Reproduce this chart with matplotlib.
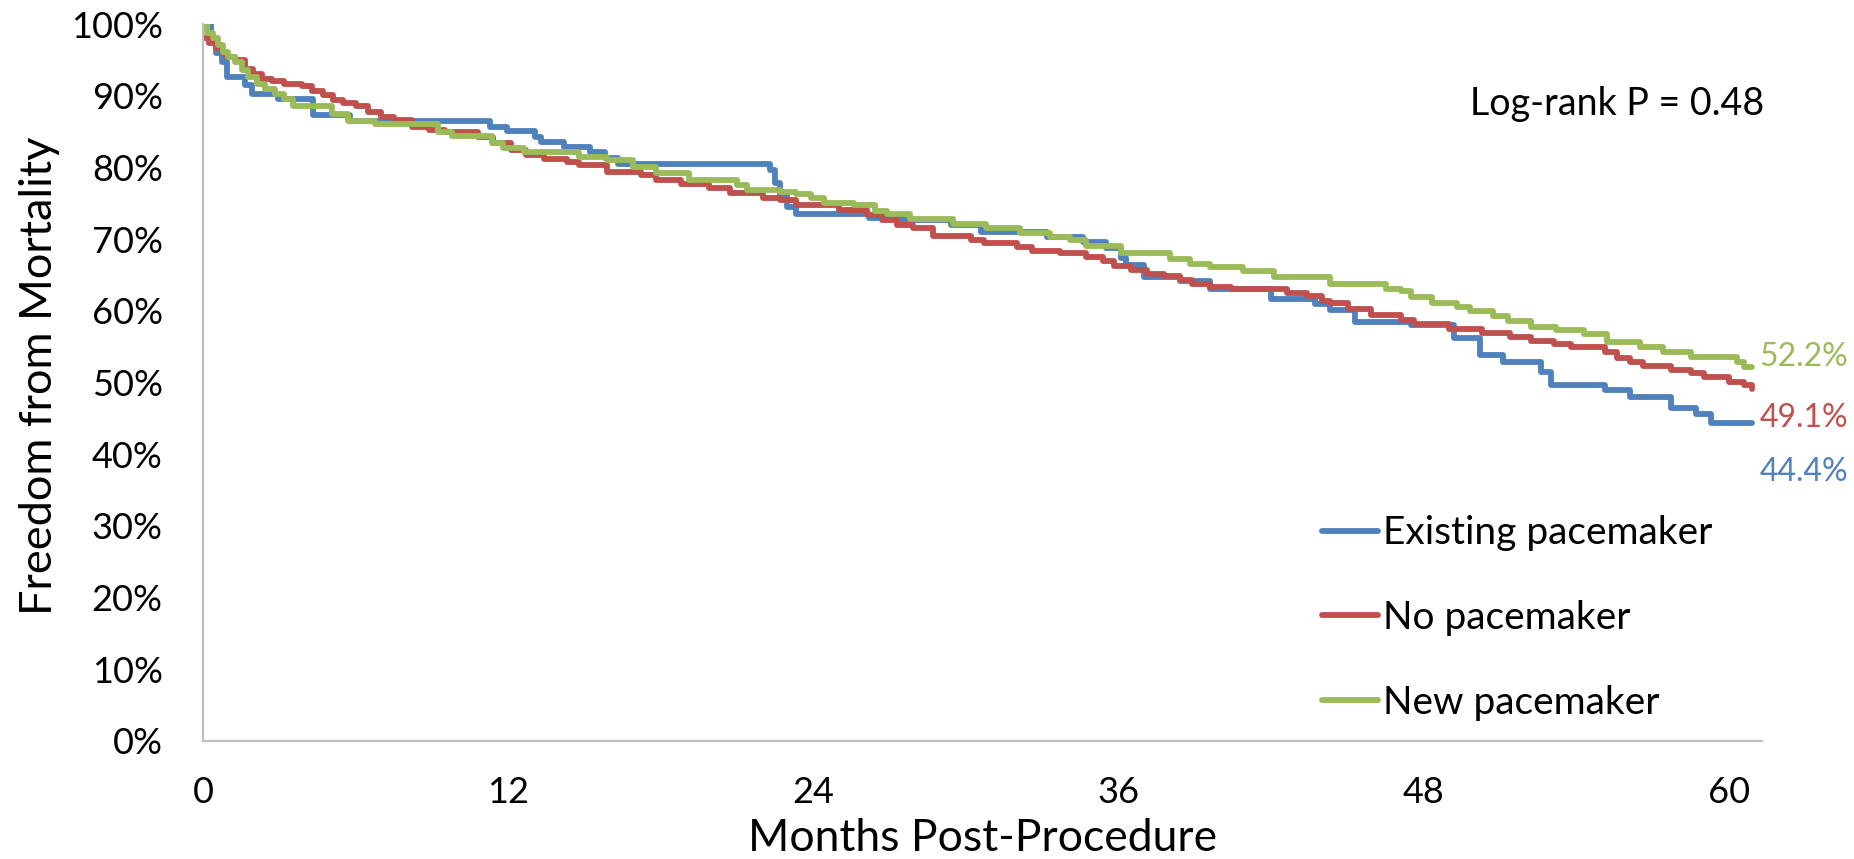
import matplotlib
matplotlib.use("Agg")
import matplotlib.pyplot as plt

plt.rcParams['font.family'] = ['Lato', 'DejaVu Sans']

# Kaplan-Meier step points (months, % alive)
existing_t = [0, 0.3, 0.5, 0.75, 0.93, 1.65, 1.91, 2.96, 4.34, 5.78, 11.3, 11.95, 13.06,
              13.3, 14.2, 15.2, 15.8, 16.3, 22.3, 22.5, 22.7, 22.95, 23.3, 26.2, 27.5,
              29.4, 30.6, 33.2, 34.6, 35.5, 36.1, 36.3, 37.0, 38.4, 39.6, 42.0, 43.7,
              44.3, 45.3, 47.5, 49.2, 50.2, 51.1, 52.6, 53.0, 55.1, 56.1, 57.7, 58.7,
              59.3, 60.9]
existing_s = [100, 97.5, 95.9, 94.7, 92.6, 91.5, 90.3, 89.5, 87.3, 86.5, 85.7, 85.1, 84.3,
              83.5, 82.8, 82.1, 81.3, 80.5, 79.6, 77.8, 76.0, 74.5, 73.5, 73.0, 72.7,
              72.0, 71.0, 70.3, 69.6, 68.7, 67.3, 66.4, 64.7, 64.1, 63.1, 61.7, 60.9,
              60.1, 58.5, 58.0, 56.2, 53.8, 52.9, 51.5, 49.7, 49.0, 48.0, 46.4, 45.6,
              44.4, 44.4]

none_t = [0, 0.25, 0.5, 0.75, 0.95, 1.26, 1.65, 1.98, 2.3, 2.7, 3.2, 3.9, 4.3, 4.7, 5.1,
          5.5, 6.0, 6.5, 7.0, 7.5, 8.2, 8.9, 9.5, 10.8, 11.4, 12.1, 12.7, 13.4, 14.3, 14.8,
          15.9, 17.2, 17.8, 18.8, 19.9, 20.7, 22.0, 22.7, 23.3, 25.0, 26.1, 26.7, 27.3,
          27.9, 28.7, 30.2, 30.7, 32.0, 32.6, 33.7, 34.7, 35.4, 35.8, 36.5, 37.1, 37.8,
          38.4, 38.9, 39.6, 40.4, 42.6, 43.4, 44.0, 44.3, 45.0, 45.9, 47.1, 47.6, 49.0,
          50.3, 51.4, 52.2, 53.1, 53.8, 55.1, 55.6, 56.1, 56.6, 57.7, 58.5, 59.0, 60.0,
          60.6, 60.9]
none_s = [98.0, 97.3, 96.6, 96.0, 95.4, 95.0, 93.8, 93.1, 92.4, 92.0, 91.6, 91.3, 90.6,
          90.1, 89.4, 89.0, 88.5, 87.8, 87.1, 86.6, 85.7, 85.2, 84.9, 84.3, 83.4, 82.4,
          81.7, 81.2, 80.8, 80.3, 79.4, 78.9, 78.3, 77.7, 77.1, 76.4, 75.8, 75.5, 74.7,
          74.1, 73.4, 72.6, 72.0, 71.5, 70.4, 69.9, 69.5, 68.9, 68.4, 68.0, 67.5, 66.9,
          66.2, 65.7, 65.2, 64.8, 64.3, 63.8, 63.3, 63.0, 62.5, 62.0, 61.4, 61.1, 60.3,
          59.4, 58.7, 58.2, 57.4, 56.9, 56.3, 55.8, 55.4, 54.9, 54.3, 53.4, 52.8, 52.3,
          51.7, 51.3, 50.8, 50.1, 49.6, 49.1]

new_t = [0, 0.15, 0.4, 0.6, 0.8, 1.0, 1.26, 1.52, 1.78, 2.11, 2.44, 2.83, 3.2, 3.55, 5.06,
         5.7, 6.76, 9.25, 9.8, 11.35, 11.8, 12.6, 14.8, 15.9, 16.9, 17.8, 19.1, 21.0, 21.4,
         22.7, 23.3, 23.9, 24.4, 25.6, 26.4, 26.9, 27.8, 29.5, 30.8, 32.1, 33.3, 34.1,
         34.7, 36.1, 38.0, 38.8, 39.6, 40.9, 42.1, 44.3, 46.5, 47.1, 47.5, 48.3, 49.3,
         49.8, 50.7, 51.3, 52.2, 53.2, 54.3, 55.2, 56.5, 57.4, 58.5, 60.3, 60.6, 60.9]
new_s = [100, 98.7, 98.0, 97.1, 96.1, 95.4, 94.7, 93.6, 92.6, 91.7, 91.0, 90.3, 89.6, 88.6,
         87.5, 86.5, 86.0, 85.0, 84.4, 83.4, 82.7, 82.1, 81.5, 81.0, 80.1, 79.2, 78.2,
         77.5, 76.9, 76.6, 76.3, 75.7, 75.1, 74.7, 73.9, 73.5, 72.8, 72.1, 71.6, 70.8,
         70.3, 69.9, 69.0, 68.0, 67.2, 66.6, 66.1, 65.5, 64.7, 63.8, 63.1, 62.7, 61.9,
         61.1, 60.6, 60.0, 59.3, 58.6, 57.8, 57.3, 56.8, 55.7, 54.9, 54.3, 53.6, 52.9,
         52.2, 52.2]

labels = ['Existing pacemaker', 'No pacemaker', 'New pacemaker']
final_pct = [44.4, 49.1, 52.2]
colors = ['#4F81BD', '#C0504D', '#9BBB59']
x_ticks = [0, 12, 24, 36, 48, 60]
y_ticks = list(range(0, 101, 10))
p_text = 'Log-rank P = 0.48'

fig = plt.figure(figsize=(18.54, 8.59), dpi=100)
ax = fig.add_axes([0.1095, 0.1374, 0.841, 0.8346])

series = [(existing_t, existing_s), (none_t, none_s), (new_t, new_s)]
for (t, s), lab, c in zip(series, labels, colors):
    ax.step(t, s, where='post', color=c, lw=4.2, label=lab,
            solid_joinstyle='round', solid_capstyle='round')

ax.set_xlim(0, 61.3)
ax.set_ylim(0, 100)
ax.set_xticks(x_ticks)
ax.set_yticks(y_ticks)
ax.set_yticklabels([f'{v}%' for v in y_ticks])
ax.tick_params(axis='both', length=0, labelsize=26)
ax.tick_params(axis='x', pad=25)
ax.tick_params(axis='y', pad=29)

for side in ['top', 'right']:
    ax.spines[side].set_visible(False)
for side in ['left', 'bottom']:
    ax.spines[side].set_color('#BFBFBF')
    ax.spines[side].set_linewidth(1.6)

ax.set_xlabel('Months Post-Procedure', fontsize=32)
ax.xaxis.set_label_coords(0.5, -0.108)
ax.set_ylabel('Freedom from Mortality', fontsize=32.5)
ax.yaxis.set_label_coords(-0.092, 0.51)

# end-of-curve percentages
label_y = [37.5, 45.1, 53.5]
for v, c, ly in zip(final_pct, colors, label_y):
    ax.text(61.2, ly, f'{v}%', color=c, fontsize=23, va='center', ha='left',
            clip_on=False)

ax.text(0.8127, 0.888, p_text, transform=ax.transAxes, fontsize=27,
        va='center', ha='left')

ax.legend(loc='upper left', bbox_to_anchor=(0.713, 0.40),
          bbox_transform=fig.transFigure, frameon=False, fontsize=28,
          handlelength=1.43, handletextpad=0.15, labelspacing=1.25,
          borderpad=0, borderaxespad=0)

fig.savefig('out.png', dpi=100)
